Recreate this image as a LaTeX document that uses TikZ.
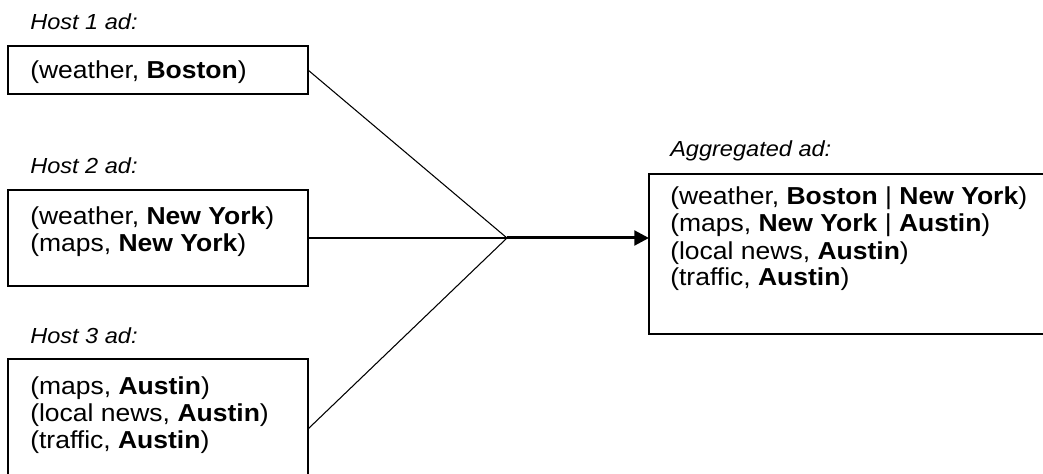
\documentclass[tikz,border=0pt]{standalone}
\usepackage{fontspec}
\setmainfont{Liberation Sans}[FakeStretch=1.08]
\usetikzlibrary{arrows.meta}
\begin{document}
\begin{tikzpicture}[x=0.75pt,y=-0.75pt,
  box/.style={draw, line width=0.9pt, inner sep=0pt, outer sep=0pt, anchor=north west},
  body/.style={anchor=base west, inner sep=0pt, font=\fontsize{18.4}{20.25}\selectfont},
  lbl/.style={anchor=base west, inner sep=0pt, font=\fontsize{16.35}{18}\selectfont\itshape},
  link/.style={line width=0.8pt},
  feed/.style={line width=2.25pt, -{Triangle[length=11pt,width=11pt]}}]
\clip (0,0) rectangle (1043,474);
% labels
\node[lbl] (l1) at (30,30) {Host 1 ad:};
\node[lbl] (l2) at (30,174) {Host 2 ad:};
\node[lbl] (l3) at (30,343) {Host 3 ad:};
\node[lbl] (l4) at (670,157) {Aggregated ad:};
% boxes
\node[box, minimum width=225pt, minimum height=36pt] (b1) at (8,46) {};
\node[box, minimum width=225pt, minimum height=72pt] (b2) at (8,190) {};
\node[box, minimum width=225pt, minimum height=105pt] (b3) at (8,359) {};
\node[box, minimum width=306pt, minimum height=120pt] (agg) at (649,174) {};
% box texts
\node[body] (t1a) at (30,79) {(weather, \textbf{Boston})};
\node[body] (t2a) at (30,224.5) {(weather, \textbf{New York})};
\node[body] (t2b) at (30,251.5) {(maps, \textbf{New York})};
\node[body] (t3a) at (30,394.5) {(maps, \textbf{Austin})};
\node[body] (t3b) at (30,421.5) {(local news, \textbf{Austin})};
\node[body] (t3c) at (30,448.5) {(traffic, \textbf{Austin})};
\node[body] (t4a) at (670,205) {(weather, \textbf{Boston} | \textbf{New York})};
\node[body] (t4b) at (670,232) {(maps, \textbf{New York} | \textbf{Austin})};
\node[body] (t4c) at (670,259) {(local news, \textbf{Austin})};
\node[body] (t4d) at (670,286) {(traffic, \textbf{Austin})};
% connectors
\coordinate (j) at (507,238);
\draw[link] (b1.east) -- (j);
\draw[link] (b2.east) -- (j);
\draw[link] (b3.east) -- (j);
\draw[feed] (j) -- (agg.west |- j);
\end{tikzpicture}
\end{document}
